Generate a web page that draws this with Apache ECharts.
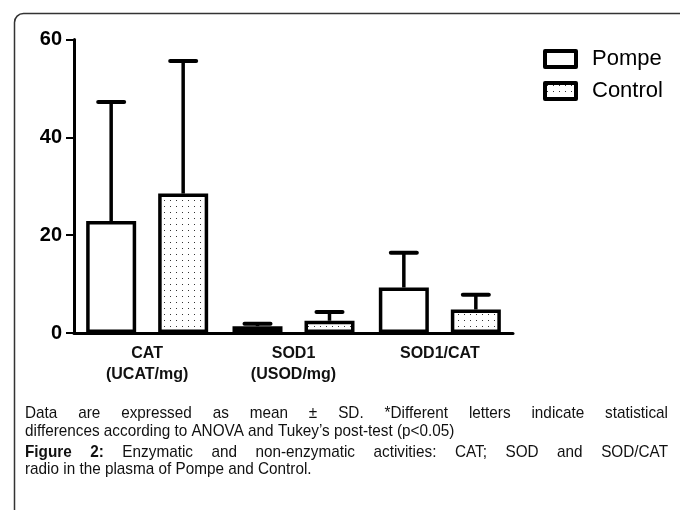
<!DOCTYPE html>
<html>
<head>
<meta charset="utf-8">
<script src="https://cdn.jsdelivr.net/npm/echarts@6/dist/echarts.min.js"></script>
<style>
  html, body { margin: 0; padding: 0; background: #fff; }
  #chart { width: 680px; height: 510px; }
</style>
</head>
<body>
<div id="chart"></div>
<script>
// values
const categories = ['CAT\n(UCAT/mg)', 'SOD1\n(USOD/mg)', 'SOD1/CAT']
const pompeMean = [22.9, 1.4, 9.3]
const pompeUpper = [47.2, 1.9, 16.4]
const controlMean = [28.5, 2.5, 4.8]
const controlUpper = [55.6, 4.3, 7.8]
const yTicks = [0, 20, 40, 60]

const captionLine1 = 'Data are expressed as mean ± SD. *Different letters indicate statistical'
const captionLine2 = 'differences according to ANOVA and Tukey’s post-test (p<0.05)'
const captionLine3Bold = 'Figure 2:'
const captionLine3 = 'Enzymatic and non-enzymatic activities: CAT; SOD and SOD/CAT'
const captionLine4 = 'radio in the plasma of Pompe and Control.'

const BAR_W = 50
const BAR_GAP = 22
const CAP_SCALE = 0.9
const captionFont = '17px "Liberation Sans", Arial, sans-serif'

// dotted fill for Control
const makeDots = () => {
  const c = document.createElement('canvas')
  c.width = 6
  c.height = 6
  const ctx = c.getContext('2d')
  ctx.fillStyle = '#fff'
  ctx.fillRect(0, 0, 6, 6)
  ctx.fillStyle = '#333'
  ctx.fillRect(2, 2, 1, 1)
  return c
}
const dots = { image: makeDots(), repeat: 'repeat' }

const chart = echarts.init(document.getElementById('chart'))

// caption text, squeezed horizontally like a narrow face
const captionText = (text, font, x, y) => ({
  type: 'text', x: x, y: y, scaleX: CAP_SCALE,
  style: { text: text, font: font, fill: '#111', verticalAlign: 'middle' }
})

// simple justification: spread words across a width
const measure = document.createElement('canvas').getContext('2d')
const justify = (words, fonts, x0, width, y) => {
  let sum = 0
  const ws = words.map((w, i) => {
    measure.font = fonts[i]
    const m = measure.measureText(w).width * CAP_SCALE
    sum += m
    return m
  })
  const gap = (width - sum) / (words.length - 1)
  let x = x0
  return words.map((w, i) => {
    const el = captionText(w, fonts[i], x, y)
    x += ws[i] + gap
    return el
  })
}

const line1Words = captionLine1.split(' ')
const line3Words = (captionLine3Bold + ' ' + captionLine3).split(' ')
const boldFont = 'bold ' + captionFont
const line3Fonts = line3Words.map((w, i) => (i < 2 ? boldFont : captionFont))

const errorSeries = (name, means, uppers, offset) => ({
  name: name + ' SD',
  type: 'custom',
  z: 3,
  data: means.map((m, i) => [i, m, uppers[i]]),
  renderItem: (params, api) => {
    const base = api.coord([api.value(0), api.value(1)])
    const top = api.coord([api.value(0), api.value(2)])
    const x = base[0] + offset
    return {
      type: 'group',
      children: [
        { type: 'line', shape: { x1: x, y1: base[1], x2: x, y2: top[1] },
          style: { stroke: '#000', lineWidth: 3.5 } },
        { type: 'line', shape: { x1: x - 13, y1: top[1], x2: x + 13, y2: top[1] },
          style: { stroke: '#000', lineWidth: 4, lineCap: 'round' } }
      ]
    }
  }
})

const barStyle = (fill) => ({ color: fill, borderColor: '#000', borderWidth: 3.5 })

chart.setOption({
  animation: false,
  grid: { left: 74, right: 167, top: 39.5, bottom: 177 },
  legend: {
    orient: 'vertical',
    left: 543,
    top: 48,
    padding: 0,
    itemGap: 10,
    itemWidth: 31,
    itemHeight: 16,
    icon: 'rect',
    textStyle: { fontSize: 22, color: '#000', fontFamily: 'Liberation Sans, Arial, sans-serif', padding: [0, 0, 0, 11] },
    data: [
      { name: 'Pompe', itemStyle: { color: '#fff', borderColor: '#000', borderWidth: 4, borderJoin: 'round' } },
      { name: 'Control', itemStyle: { color: dots, borderColor: '#000', borderWidth: 4, borderJoin: 'round' } }
    ]
  },
  xAxis: {
    type: 'category',
    data: categories,
    axisLine: { lineStyle: { color: '#000', width: 3 } },
    axisTick: { show: false },
    axisLabel: {
      margin: 10,
      color: '#111',
      fontWeight: 'bold',
      fontSize: 16,
      lineHeight: 21,
      fontFamily: 'Liberation Sans, Arial, sans-serif'
    }
  },
  yAxis: {
    type: 'value',
    min: yTicks[0],
    max: yTicks[yTicks.length - 1],
    interval: yTicks[1] - yTicks[0],
    splitLine: { show: false },
    axisLine: { show: true, lineStyle: { color: '#000', width: 3 } },
    axisTick: { show: true, length: 8, lineStyle: { color: '#000', width: 2 } },
    axisLabel: {
      margin: 12,
      color: '#000',
      fontWeight: 'bold',
      fontSize: 20,
      fontFamily: 'Liberation Sans, Arial, sans-serif'
    }
  },
  series: [
    {
      name: 'Pompe', type: 'bar', data: pompeMean, barWidth: BAR_W,
      barGap: (BAR_GAP / BAR_W * 100) + '%', itemStyle: barStyle('#fff')
    },
    {
      name: 'Control', type: 'bar', data: controlMean, barWidth: BAR_W,
      itemStyle: barStyle(dots)
    },
    errorSeries('Pompe', pompeMean, pompeUpper, -(BAR_W + BAR_GAP) / 2),
    errorSeries('Control', controlMean, controlUpper, (BAR_W + BAR_GAP) / 2)
  ],
  graphic: [
    {
      type: 'rect', left: 12, top: 11, silent: true,
      shape: { width: 720, height: 560, r: 9 },
      style: { fill: 'none', stroke: '#333', lineWidth: 1.5 }
    },
    ...justify(line1Words, line1Words.map(() => captionFont), 25, 643, 413),
    captionText(captionLine2, captionFont, 25, 431),
    ...justify(line3Words, line3Fonts, 25, 643, 452),
    captionText(captionLine4, captionFont, 25, 469)
  ]
})

window.addEventListener('resize', () => chart.resize())
</script>
</body>
</html>
